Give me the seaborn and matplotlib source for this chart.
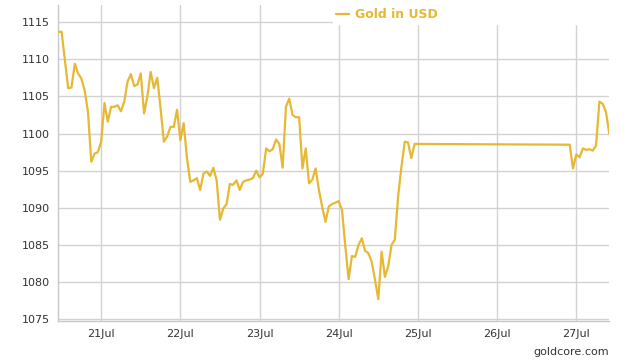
import matplotlib
matplotlib.use("Agg")
import matplotlib.pyplot as plt
import matplotlib.dates as mdates
import seaborn as sns
import pandas as pd

# hourly gold price readings, hours counted from 20 Jul 2015 11:00
hours = [0, 1, 3, 4, 5, 6, 7, 8, 9, 10, 11, 12, 13, 14, 15, 16, 17, 18, 19, 20,
         21, 22, 23, 24, 25, 26, 27, 28, 29, 30, 31, 32, 33, 34, 35, 36, 37, 38, 39, 40,
         41, 42, 43, 44, 45, 46, 47, 48, 49, 50, 51, 52, 53, 54, 55, 56, 57, 58, 59, 60,
         61, 62, 63, 64, 65, 66, 67, 68, 69, 70, 71, 72, 73, 74, 75, 76, 77, 78, 79, 80,
         81, 82, 83, 84, 85, 86, 87, 88, 89, 90, 91, 92, 93, 94, 95, 96, 97, 98, 99, 100,
         101, 102, 103, 104, 105, 106, 107, 108, 155, 156, 157, 158, 159, 160, 161, 162,
         163, 164, 165, 166, 167]
prices = [1113.7, 1113.7, 1106.1, 1106.2, 1109.4, 1108.1, 1107.4, 1105.8, 1102.9, 1096.2,
          1097.3, 1097.5, 1098.9, 1104.1, 1101.6, 1103.6, 1103.6, 1103.8, 1103.0, 1104.3,
          1107.0, 1108.0, 1106.4, 1106.6, 1108.1, 1102.7, 1105.0, 1108.3, 1106.1, 1107.5,
          1103.4, 1098.9, 1099.6, 1100.9, 1100.9, 1103.2, 1099.1, 1101.4, 1096.7, 1093.5,
          1093.7, 1094.0, 1092.4, 1094.6, 1094.9, 1094.3, 1095.4, 1093.7, 1088.4, 1089.9,
          1090.5, 1093.2, 1093.1, 1093.7, 1092.4, 1093.5, 1093.7, 1093.8, 1094.0, 1095.0,
          1094.1, 1094.6, 1098.0, 1097.6, 1097.9, 1099.2, 1098.6, 1095.4, 1103.6, 1104.7,
          1102.5, 1102.2, 1102.2, 1095.3, 1098.0, 1093.3, 1093.8, 1095.3, 1092.4, 1090.1,
          1088.1, 1090.2, 1090.5, 1090.7, 1090.9, 1089.7, 1084.8, 1080.4, 1083.5, 1083.4,
          1085.0, 1085.9, 1084.2, 1083.9, 1082.7, 1080.3, 1077.7, 1084.1, 1080.7, 1082.1,
          1085.0, 1085.7, 1091.5, 1095.5, 1098.9, 1098.8, 1096.7, 1098.6, 1098.5, 1095.3,
          1097.2, 1096.8, 1098.0, 1097.8, 1097.9, 1097.7, 1098.4, 1104.3, 1104.0, 1102.9,
          1100.0]
y_ticks = [1075, 1080, 1085, 1090, 1095, 1100, 1105, 1110, 1115]

gold = "#E6B833"
start = pd.Timestamp("2015-07-20 11:00")
df = pd.DataFrame({
    "time": start + pd.to_timedelta(hours, unit="h"),
    "price": prices,
})

sns.set_style("white")
plt.rcParams["font.family"] = ["DejaVu Sans"]

fig = plt.figure(figsize=(6.24, 3.64), dpi=100)
ax = fig.add_axes([0.0934, 0.1181, 0.883, 0.868])

sns.lineplot(data=df, x="time", y="price", color=gold, linewidth=1.6,
             label="Gold in USD", ax=ax, zorder=3)

ax.set_xlim(df["time"].iloc[0], df["time"].iloc[-1])
ax.set_ylim(1074.76, 1117.3)
ax.set_yticks(y_ticks)
ax.xaxis.set_major_locator(mdates.DayLocator())
ax.xaxis.set_major_formatter(mdates.DateFormatter("%d%b"))
ax.set_xlabel("")
ax.set_ylabel("")

ax.grid(True, color="#d2d2d2", linewidth=1.0)
ax.set_axisbelow(True)
for side in ["top", "right"]:
    ax.spines[side].set_visible(False)
for side in ["left", "bottom"]:
    ax.spines[side].set_color("#c8c8c8")
    ax.spines[side].set_linewidth(1.0)
ax.tick_params(axis="both", labelsize=8, labelcolor="#333333", length=3,
               color="#c8c8c8", pad=3)

leg = ax.legend(loc="upper left", bbox_to_anchor=(0.4985, 0.943, 0.503, 0.057),
                mode="expand", frameon=True, facecolor="white", edgecolor="white",
                framealpha=1.0, fancybox=False, handlelength=1.0, handletextpad=0.5,
                borderpad=0.25, borderaxespad=0.0,
                prop={"size": 9, "weight": "bold"})
for txt in leg.get_texts():
    txt.set_color(gold)
leg.set_zorder(5)

fig.text(0.976, 0.033, "goldcore.com", ha="right", va="center",
         fontsize=8, color="#333333")

fig.savefig("out.png", dpi=100)
